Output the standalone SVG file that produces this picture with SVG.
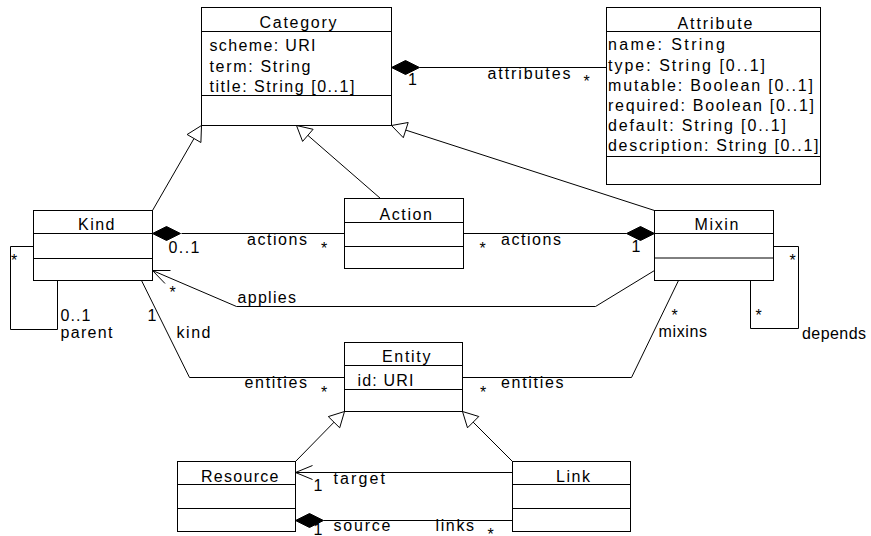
<svg xmlns="http://www.w3.org/2000/svg" width="871" height="536" viewBox="0 0 871 536">
<style>
.box{fill:#fff;stroke:#000;stroke-width:1}
.ln{fill:none;stroke:#000;stroke-width:1}
.dia{fill:#000;stroke:#000;stroke-width:1}
.tri{fill:#fff;stroke:#000;stroke-width:1}
text{font-family:"Liberation Sans",Arial,sans-serif;font-size:16px;fill:#000}
</style>
<rect width="871" height="536" fill="#fff"/>
<g transform="translate(0.5,0.5)">
<g id="connectors">
  <line class="ln" x1="419" y1="67" x2="606" y2="67"/>
  <polygon class="dia" points="391,67 405,60 419,67 405,74"/>
  <line class="ln" x1="181" y1="233" x2="344" y2="233"/>
  <polygon class="dia" points="152,233 166,226 180,233 166,240"/>
  <line class="ln" x1="463" y1="233" x2="626" y2="233"/>
  <polygon class="dia" points="654,233 640,226 626,233 640,240"/>
  <polyline class="ln" points="654,270 595,306 236,306 152,270"/>
  <polyline class="ln" points="170,270 152,270 164.5,283"/>
  <polyline class="ln" points="33,246 10,246 10,329 57,329 57,280"/>
  <polyline class="ln" points="773,246 798,246 798,328 750,328 750,280"/>
  <polyline class="ln" points="141,280 189,377 344,377"/>
  <polyline class="ln" points="462,377 631,377 678,280"/>
  <line class="ln" x1="152" y1="210" x2="193.5" y2="138"/>
  <polygon class="tri" points="201,125 200.4,142 186.6,134"/>
  <line class="ln" x1="380" y1="198" x2="307.3" y2="134.8"/>
  <polygon class="tri" points="296,125 312.6,128.8 302.1,140.9"/>
  <line class="ln" x1="654" y1="210" x2="405.3" y2="129.6"/>
  <polygon class="tri" points="391,125 407.7,122 402.8,137.2"/>
  <line class="ln" x1="295" y1="461" x2="333.5" y2="421.7"/>
  <polygon class="tri" points="344,411 339.2,427.3 327.8,416.1"/>
  <line class="ln" x1="512" y1="461" x2="472.6" y2="421.6"/>
  <polygon class="tri" points="462,411 478.3,416 467,427.3"/>
  <line class="ln" x1="512" y1="472" x2="295" y2="472"/>
  <polyline class="ln" points="312,465 295,472 312,479"/>
  <line class="ln" x1="512" y1="520" x2="323" y2="520"/>
  <polygon class="dia" points="295,520 309,513 323,520 309,527"/>
  <text x="407.5" y="84">1</text>
  <text x="487" y="78" textLength="83" lengthAdjust="spacing">attributes</text>
  <text x="583" y="86">*</text>
  <text x="10.5" y="265">*</text>
  <text x="60" y="320" textLength="30" lengthAdjust="spacing">0..1</text>
  <text x="60" y="337.5" textLength="52" lengthAdjust="spacing">parent</text>
  <text x="168" y="252" textLength="31" lengthAdjust="spacing">0..1</text>
  <text x="246.5" y="244" textLength="60" lengthAdjust="spacing">actions</text>
  <text x="320.5" y="253.5">*</text>
  <text x="479" y="253.5">*</text>
  <text x="500.5" y="244" textLength="60" lengthAdjust="spacing">actions</text>
  <text x="631" y="251.5">1</text>
  <text x="169" y="297">*</text>
  <text x="237" y="302" textLength="58.5" lengthAdjust="spacing">applies</text>
  <text x="147" y="320.5">1</text>
  <text x="176" y="337.5" textLength="34" lengthAdjust="spacing">kind</text>
  <text x="244" y="387.5" textLength="62.5" lengthAdjust="spacing">entities</text>
  <text x="320.5" y="397.5">*</text>
  <text x="479.5" y="397.5">*</text>
  <text x="500.5" y="387.5" textLength="62.5" lengthAdjust="spacing">entities</text>
  <text x="671" y="320.5">*</text>
  <text x="658" y="336.5" textLength="48.5" lengthAdjust="spacing">mixins</text>
  <text x="789" y="265">*</text>
  <text x="755" y="320">*</text>
  <text x="801.5" y="338" textLength="64" lengthAdjust="spacing">depends</text>
  <text x="313" y="490">1</text>
  <text x="333" y="483" textLength="51.5" lengthAdjust="spacing">target</text>
  <text x="313" y="534">1</text>
  <text x="333" y="530" textLength="57" lengthAdjust="spacing">source</text>
  <text x="435" y="530" textLength="38.5" lengthAdjust="spacing">links</text>
  <text x="487" y="539">*</text>
</g>
<g id="Category">
  <rect class="box" x="201" y="7" width="190" height="118"/>
  <line class="ln" x1="201" y1="31" x2="391" y2="31"/>
  <line class="ln" x1="201" y1="95" x2="391" y2="95"/>
  <text x="259" y="27.5" textLength="77" lengthAdjust="spacing">Category</text>
  <text x="209" y="50.5" textLength="106" lengthAdjust="spacing">scheme: URI</text>
  <text x="209" y="71" textLength="101" lengthAdjust="spacing">term: String</text>
  <text x="209" y="91.5" textLength="145" lengthAdjust="spacing">title: String [0..1]</text>
</g>
<g id="Attribute">
  <rect class="box" x="606" y="7" width="214" height="177"/>
  <line class="ln" x1="606" y1="31" x2="820" y2="31"/>
  <line class="ln" x1="606" y1="156" x2="820" y2="156"/>
  <text x="677" y="28" textLength="75" lengthAdjust="spacing">Attribute</text>
  <text x="607.5" y="49.5" textLength="117" lengthAdjust="spacing">name: String</text>
  <text x="607.5" y="70" textLength="157" lengthAdjust="spacing">type: String [0..1]</text>
  <text x="607.5" y="90.5" textLength="205" lengthAdjust="spacing">mutable: Boolean [0..1]</text>
  <text x="607.5" y="110.5" textLength="206" lengthAdjust="spacing">required: Boolean [0..1]</text>
  <text x="607.5" y="130.5" textLength="178" lengthAdjust="spacing">default: String [0..1]</text>
  <text x="607.5" y="150.5" textLength="210.5" lengthAdjust="spacing">description: String [0..1]</text>
</g>
<g id="Kind">
  <rect class="box" x="33" y="210" width="119" height="70"/>
  <line class="ln" x1="33" y1="233" x2="152" y2="233"/>
  <line class="ln" x1="33" y1="258" x2="152" y2="258"/>
  <text x="77.5" y="229" textLength="36.5" lengthAdjust="spacing">Kind</text>
</g>
<g id="Action">
  <rect class="box" x="344" y="198" width="119" height="70"/>
  <line class="ln" x1="344" y1="222" x2="463" y2="222"/>
  <line class="ln" x1="344" y1="246" x2="463" y2="246"/>
  <text x="379" y="219" textLength="52.5" lengthAdjust="spacing">Action</text>
</g>
<g id="Mixin">
  <rect class="box" x="654" y="210" width="119" height="70"/>
  <line class="ln" x1="654" y1="233" x2="773" y2="233"/>
  <line class="ln" x1="654" y1="257.5" x2="773" y2="257.5"/>
  <text x="694" y="229" textLength="44" lengthAdjust="spacing">Mixin</text>
</g>
<g id="Entity">
  <rect class="box" x="344" y="342" width="118" height="69"/>
  <line class="ln" x1="344" y1="365" x2="462" y2="365"/>
  <line class="ln" x1="344" y1="389" x2="462" y2="389"/>
  <text x="381.5" y="361.5" textLength="48.5" lengthAdjust="spacing">Entity</text>
  <text x="357" y="385.5" textLength="56" lengthAdjust="spacing">id: URI</text>
</g>
<g id="Resource">
  <rect class="box" x="177" y="461" width="118" height="70"/>
  <line class="ln" x1="177" y1="484" x2="295" y2="484"/>
  <line class="ln" x1="177" y1="508" x2="295" y2="508"/>
  <text x="200.5" y="481" textLength="77.5" lengthAdjust="spacing">Resource</text>
</g>
<g id="Link">
  <rect class="box" x="512" y="461" width="118" height="70"/>
  <line class="ln" x1="512" y1="484" x2="630" y2="484"/>
  <line class="ln" x1="512" y1="508" x2="630" y2="508"/>
  <text x="555.5" y="481" textLength="34" lengthAdjust="spacing">Link</text>
</g>
</g>
</svg>
